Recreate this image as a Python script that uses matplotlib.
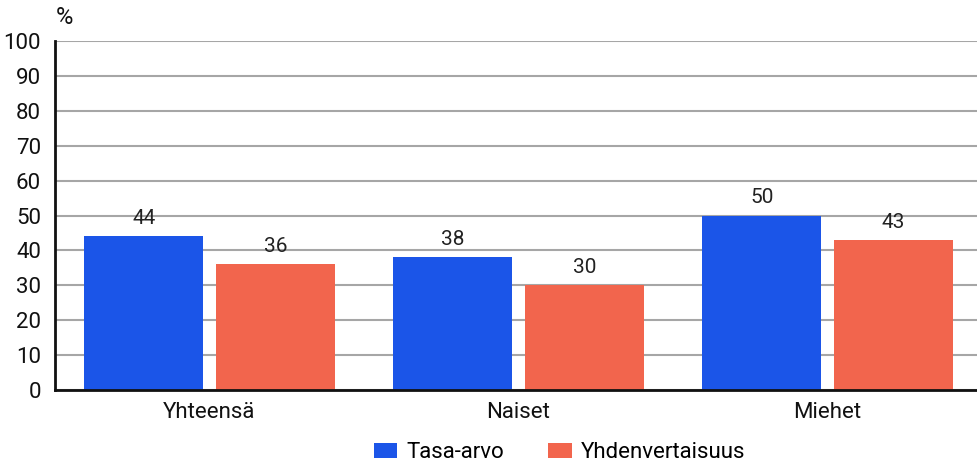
import matplotlib
matplotlib.use("Agg")
import matplotlib.pyplot as plt
import numpy as np

plt.rcParams["font.family"] = ["Roboto", "DejaVu Sans"]

categories = ["Yhteensä", "Naiset", "Miehet"]
series_names = ["Tasa-arvo", "Yhdenvertaisuus"]
tasa_arvo = [44, 38, 50]
yhdenvertaisuus = [36, 30, 43]
y_ticks = [0, 10, 20, 30, 40, 50, 60, 70, 80, 90, 100]

BLUE = "#1b55e8"
CORAL = "#f2654d"

fig = plt.figure(figsize=(9.78, 4.66), dpi=100)
ax = fig.add_axes([55 / 978, 1 - 390 / 466, 927 / 978, 349 / 466])

x = np.arange(len(categories))
w = 0.385
off = 0.2128
b1 = ax.bar(x - off, tasa_arvo, w, color=BLUE, label=series_names[0], zorder=3)
b2 = ax.bar(x + off, yhdenvertaisuus, w, color=CORAL, label=series_names[1], zorder=3)

for bars in (b1, b2):
    for r in bars:
        ax.annotate(f"{r.get_height():g}", (r.get_x() + r.get_width() / 2, r.get_height()),
                    xytext=(0, 6), textcoords="offset points", ha="center", va="bottom",
                    fontsize=15, color="#222222")

ax.set_xlim(-0.5, 2.5)
ax.set_ylim(0, 100)
ax.set_yticks(y_ticks)
ax.set_xticks(x)
ax.set_xticklabels(categories)
ax.tick_params(axis="both", length=0, labelsize=16, colors="#111111")
ax.tick_params(axis="y", pad=10)
ax.tick_params(axis="x", pad=9)
ax.grid(axis="y", color="#a6a6a6", linewidth=1.5, zorder=0)
ax.set_axisbelow(True)
for s in ("top", "right"):
    ax.spines[s].set_visible(False)
for s in ("left", "bottom"):
    ax.spines[s].set_linewidth(2)
    ax.spines[s].set_color("#111111")
    ax.spines[s].set_zorder(4)

fig.text(56 / 978, 1 - 18 / 466, "%", fontsize=17, va="center", ha="left", color="#111111")

fig.legend(loc="center", bbox_to_anchor=(0.572, 0.028), ncol=2, frameon=False,
           fontsize=16, handlelength=1.05, handleheight=0.65, handletextpad=0.4,
           columnspacing=2.0)

fig.savefig("out.png", dpi=100)
